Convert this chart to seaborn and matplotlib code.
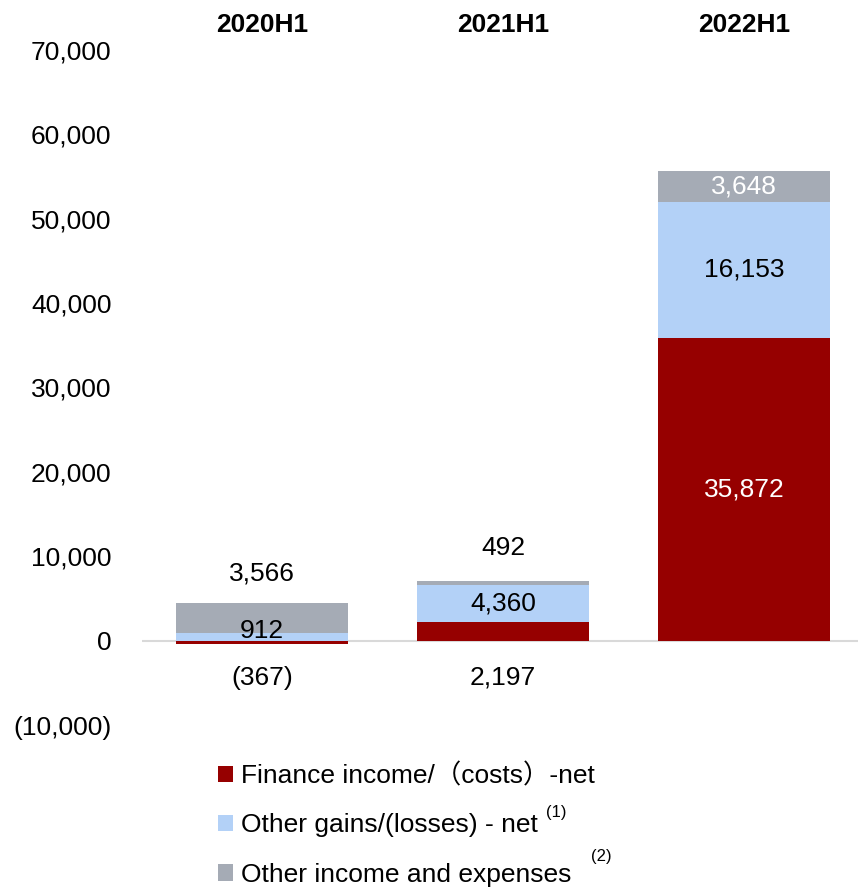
import numpy as np
import matplotlib
matplotlib.use('Agg')
import matplotlib.pyplot as plt
import matplotlib.transforms as mtransforms
import seaborn as sns

categories = ['2020H1', '2021H1', '2022H1']
finance_net = [-367, 2197, 35872]
other_gains = [912, 4360, 16153]
other_income = [3566, 492, 3648]
series_names = ['Finance income/（costs）-net',
                'Other gains/(losses) - net',
                'Other income and expenses']
footnotes = ['(1)', '(2)']
y_ticks = [-10000, 0, 10000, 20000, 30000, 40000, 50000, 60000, 70000]

C_RED = '#960000'
C_BLUE = '#B3D1F7'
C_GRAY = '#A5ABB5'
FS = 19

sns.set_style('white')
plt.rcParams['font.family'] = ['Liberation Sans', 'Noto Sans CJK SC']
plt.rcParams['text.color'] = 'black'
plt.rcParams['ytick.color'] = 'black'
plt.rcParams['xtick.color'] = 'black'
plt.rcParams['axes.labelcolor'] = 'black'

fig = plt.figure(figsize=(8.58, 8.89), dpi=100)
ax = fig.add_axes([142 / 858, 164 / 889, 716 / 858, 675 / 889])

red = np.array(finance_net, dtype=float)
blue = np.array(other_gains, dtype=float)
gray = np.array(other_income, dtype=float)
base = np.clip(red, 0, None)
blue_top = base + blue
gray_top = blue_top + gray

common = dict(saturation=1, width=0.71, linewidth=0, errorbar=None, ax=ax)
sns.barplot(x=categories, y=gray_top, color=C_GRAY, **common)
sns.barplot(x=categories, y=blue_top, color=C_BLUE, **common)
sns.barplot(x=categories, y=red, color=C_RED, **common)

ax.axhline(0, color='#D9D9D9', lw=1.5, zorder=0.5)

ax.set_ylim(-10000, 70000)
ax.set_xlim(-0.498, 2.473)
ax.set_yticks(y_ticks)
ax.set_yticklabels([f'({-v:,})' if v < 0 else f'{v:,}' for v in y_ticks],
                   fontsize=FS, color='black')
ax.tick_params(axis='y', length=0, pad=22)
ax.set_xticks([])
ax.set_xlabel('')
ax.set_ylabel('')
for s in ax.spines.values():
    s.set_visible(False)

# category headers
trans = mtransforms.blended_transform_factory(ax.transData, ax.transAxes)
for i, c in enumerate(categories):
    ax.text(i, 1.037, c, transform=trans, ha='center', va='center',
            fontsize=FS, fontweight='bold', color='black')

def lab(i, y, v, dy=0, color='black'):
    txt = f'({-int(v):,})' if v < 0 else f'{int(v):,}'
    ax.annotate(txt, xy=(i, y), xytext=(0, dy), textcoords='offset pixels',
                ha='center', va='center', fontsize=FS, color=color)

# 2020H1
lab(0, gray_top[0], gray[0], dy=29)
lab(0, blue_top[0], blue[0], dy=2)
lab(0, 0, red[0], dy=-37)
# 2021H1
lab(1, gray_top[1], gray[1], dy=33)
lab(1, base[1] + blue[1] / 2, blue[1])
lab(1, 0, red[1], dy=-37)
# 2022H1
lab(2, blue_top[2] + gray[2] / 2, gray[2], color='white')
lab(2, base[2] + blue[2] / 2, blue[2])
lab(2, red[2] / 2, red[2], color='white')

handles = [ax.containers[2], ax.containers[1], ax.containers[0]]
fig.legend(handles=handles, labels=series_names, loc='upper left',
           bbox_to_anchor=(218 / 858, 1 - 763 / 889), frameon=False,
           fontsize=FS, handlelength=0.58, handleheight=0.58,
           handletextpad=0.3, labelspacing=0.96, borderpad=0, borderaxespad=0)

fig.text(556 / 858, 1 - 813 / 889, footnotes[0], fontsize=12, ha='center', va='center')
fig.text(601 / 858, 1 - 856 / 889, footnotes[1], fontsize=12, ha='center', va='center')

fig.savefig('out.png', dpi=100)
